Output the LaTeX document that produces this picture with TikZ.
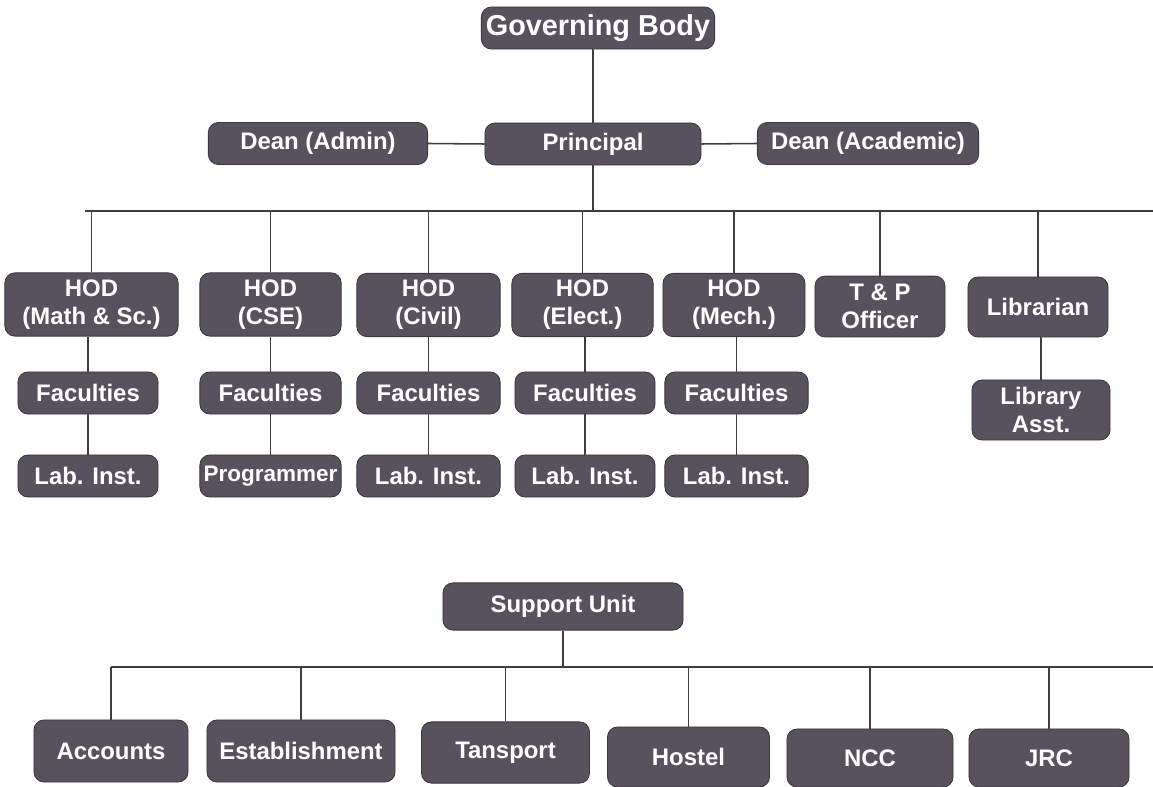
\documentclass[tikz,border=0pt]{standalone}
\usepackage{fontspec}
\setmainfont{Liberation Sans}
\usepackage{tikz}
\usetikzlibrary{positioning,calc}
\definecolor{boxgray}{RGB}{88,82,94}
\definecolor{boxedge}{RGB}{60,56,64}
\definecolor{linegray}{RGB}{62,62,62}
\tikzstyle{unit}=[rectangle, rounded corners=0.25cm, fill=boxgray, draw=boxedge, line width=0.6pt, text=white, align=center, inner sep=0pt, font=\fontsize{17}{20}\selectfont\bfseries]
\tikzstyle{link}=[draw=linegray, line width=1.1pt]

\begin{document}
\begin{tikzpicture}[x=0.025cm,y=-0.025cm,toprow/.style={unit,minimum height=1.05cm},hodbox/.style={unit,minimum height=1.58cm},staffbox/.style={unit,minimum height=1.05cm},supbox/.style={unit,minimum height=1.5cm}]
\useasboundingbox (0,0) rectangle (1153,787);

\node (gb) at (598,28)[toprow,minimum width=5.83cm,font=\fontsize{20.5}{24}\selectfont\bfseries] {Governing Body};
\node (pr) at (593,144)[toprow,minimum width=5.4cm] {Principal};
\node (da) at (318,143.5)[toprow,minimum width=5.48cm] {Dean (Admin)};
\node (dac) at (868,143.5)[toprow,minimum width=5.53cm] {Dean (Academic)};

\node (h1) at (91.5,304.5)[hodbox,minimum width=4.33cm] {HOD\\(Math \& Sc.)};
\node (h2) at (270.5,304.5)[hodbox,minimum width=3.53cm] {HOD\\(CSE)};
\node (h3) at (428.5,305)[hodbox,minimum width=3.58cm] {HOD\\(Civil)};
\node (h4) at (582.5,305)[hodbox,minimum width=3.53cm] {HOD\\(Elect.)};
\node (h5) at (734,305)[hodbox,minimum width=3.55cm] {HOD\\(Mech.)};
\node (tp) at (880,306.5)[unit,minimum width=3.25cm,minimum height=1.52cm] {T \& P\\Officer};
\node (lib) at (1038,307)[unit,minimum width=3.5cm,minimum height=1.5cm] {Librarian};

\node (f1) at (88,393)[staffbox,minimum width=3.5cm] {Faculties};
\node (f2) at (270.5,393)[staffbox,minimum width=3.53cm] {Faculties};
\node (f3) at (428.5,393)[staffbox,minimum width=3.58cm] {Faculties};
\node (f4) at (585,393)[staffbox,minimum width=3.5cm] {Faculties};
\node (f5) at (736.5,393)[staffbox,minimum width=3.58cm] {Faculties};
\node (la) at (1041,410)[unit,minimum width=3.45cm,minimum height=1.5cm] {Library\\Asst.};

\node (l1) at (88,476)[staffbox,minimum width=3.5cm] {Lab. Inst.};
\node (l2) at (270.5,476)[staffbox,minimum width=3.53cm,font=\fontsize{16}{19}\selectfont\bfseries] {Programmer};
\node (l3) at (428.5,476)[staffbox,minimum width=3.58cm] {Lab. Inst.};
\node (l4) at (585,476)[staffbox,minimum width=3.5cm] {Lab. Inst.};
\node (l5) at (736.5,476)[staffbox,minimum width=3.58cm] {Lab. Inst.};

\node (su) at (563,606.5)[unit,minimum width=6cm,minimum height=1.18cm] {Support Unit};
\node (s1) at (111,751)[supbox,minimum width=3.85cm,minimum height=1.55cm] {Accounts};
\node (s2) at (301,751)[supbox,minimum width=4.7cm,minimum height=1.55cm] {Establishment};
\node (s3) at (505.5,752.5)[supbox,minimum width=4.2cm,minimum height=1.53cm] {Tansport};
\node (s4) at (688.5,757)[supbox,minimum width=4.05cm] {Hostel};
\node (s5) at (870,758)[supbox,minimum width=4.15cm,minimum height=1.45cm] {NCC};
\node (s6) at (1049,758)[supbox,minimum width=4cm,minimum height=1.45cm] {JRC};

\coordinate (busA) at (85,211);
\coordinate (busB) at (1153,211);
\coordinate (busC) at (111,667);
\coordinate (busD) at (1153,667);

\draw[link] (pr.north) -- (pr.north |- gb.south);
\draw[link] (da.east) -- (pr.west);
\draw[link] (pr.east) -- (dac.west);
\draw[link] (pr.south) -- (pr.south |- busA);
\draw[link] (busA) -- (busB);
\foreach \n in {h1,h2,h3,h4,h5,tp,lib}
  \draw[link] (\n.north) -- (\n.north |- busA);
\foreach \i in {1,...,5} {
  \draw[link] (f\i.north) -- (f\i.north |- h\i.south);
  \draw[link] (l\i.north) -- (f\i.south);
}
\draw[link] (la.north) -- (la.north |- lib.south);

\draw[link] (su.south) -- (su.south |- busC);
\draw[link] (busC) -- (busD);
\foreach \n in {s1,s2,s3,s4,s5,s6}
  \draw[link] (\n.north) -- (\n.north |- busC);
\end{tikzpicture}
\end{document}
